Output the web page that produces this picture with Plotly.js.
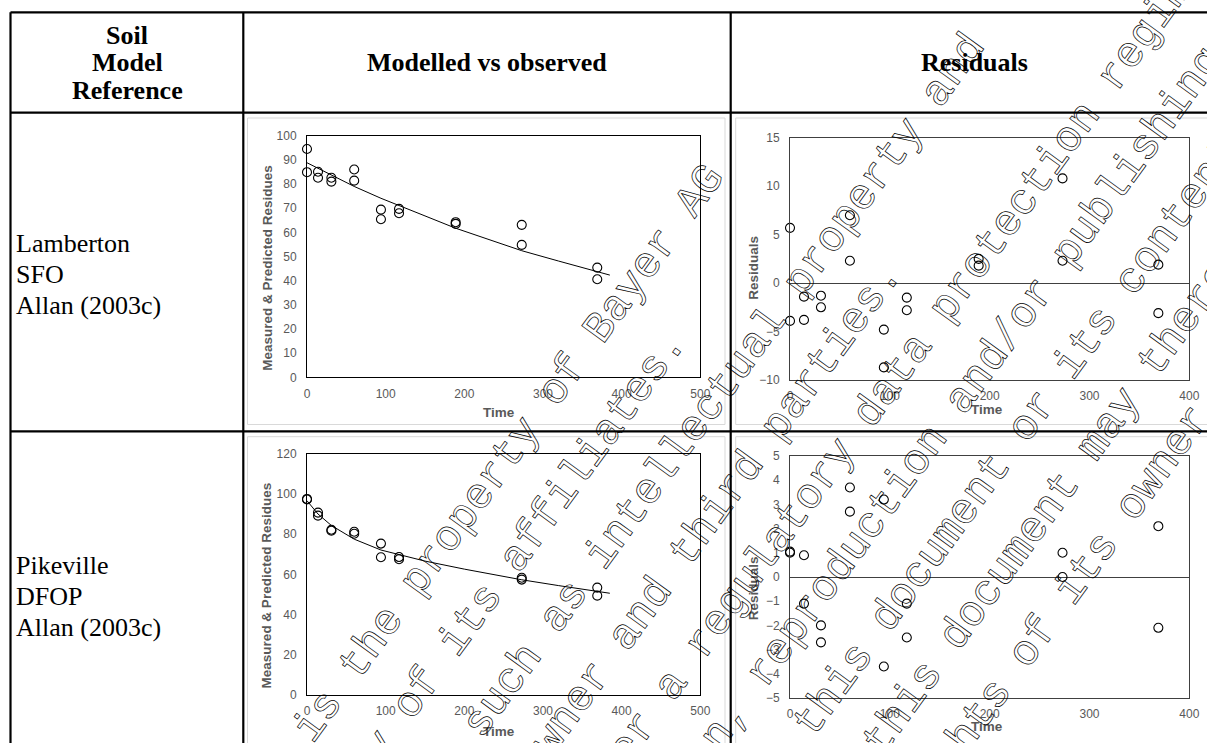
<!DOCTYPE html>
<html><head><meta charset="utf-8">
<script src="https://cdn.plot.ly/plotly-3.0.1.min.js"></script>
<style>html,body{margin:0;padding:0;background:#fff;overflow:hidden}#chart{width:1207px;height:743px}</style>
</head><body><div id="chart"></div>
<script>
// ---------- data ----------
// Lamberton (SFO)
const lamTime = [0,0,14,14,31,31,60,60,94,94,117,117,189,189,273,273,369,369];
const lamObs  = [94.5,84.9,85.1,82.6,82.6,81.0,86.0,81.4,69.4,65.4,69.7,67.9,64.2,63.5,63.1,54.8,45.4,40.6];
const lamFitTime = [0,14,31,60,94,117,150,189,230,273,320,369,385];
const lamFit     = [88.8,86.5,83.9,79.0,74.1,71.2,66.8,61.7,57.2,52.4,48.1,43.6,42.3];
const lamRes  = [5.7,-3.9,-1.4,-3.8,-1.3,-2.5,7.0,2.3,-4.8,-8.7,-1.5,-2.8,2.5,1.8,10.8,2.3,1.9,-3.1];
// Pikeville (DFOP)
const pikTime = [0,0,14,14,31,31,60,60,94,94,117,117,273,273,369,369];
const pikObs  = [97.5,97.2,90.7,89.2,82.2,81.7,81.2,80.2,75.3,68.5,68.6,67.5,58.3,57.4,53.4,49.4];
const pikFitTime = [0,14,31,60,94,117,150,200,250,273,320,369,385];
const pikFit     = [96.6,90.0,84.3,77.5,72.1,69.8,66.6,62.6,59.0,57.3,54.4,51.4,50.6];
const pikRes  = [1.05,1.0,0.9,-1.1,-2.0,-2.7,3.7,2.7,3.2,-3.7,-1.1,-2.5,1.0,0.0,2.1,-2.1];

// ---------- text ----------
const headerSoil = ["Soil","Model","Reference"];
const headerCols = ["Modelled vs observed","Residuals"];
const row1Text = ["Lamberton","SFO","Allan (2003c)"];
const row2Text = ["Pikeville","DFOP","Allan (2003c)"];
const yTitleFit = "Measured & Predicted Residues";
const yTitleRes = "Residuals";
const xTitle = "Time";
const watermark = [
  "This document is the property of Bayer AG",
  "and/or any of its affiliates.",
  "It may be subject to rights such as intellectual property and",
  "copy rights of the owner and third parties.",
  "Furthermore, this document may fall under a regulatory data protection regime.",
  "Consequently, any publication, distribution, reproduction and/or publishing and",
  "any commercial exploitation and use of this document or its contents",
  "without the permission of the owner of this document may therefore",
  "be prohibited and violate the rights of its owner."
];

// ---------- layout helpers ----------
const W = 1207, H = 743;
const X = p => p / W;
const Y = p => 1 - p / H;

const tickFont = {family:"Liberation Sans, Arial, sans-serif", size:12, color:"#595959"};
const titleFont = {family:"Liberation Sans, Arial, sans-serif", size:13.5, color:"#595959"};

function axis(extra){
  return Object.assign({
    showgrid:false, zeroline:false, showline:true, mirror:true,
    linecolor:"#000", linewidth:1, ticks:"outside", tickcolor:"rgba(0,0,0,0)",
    ticklen:7, tickfont:tickFont, automargin:false, fixedrange:true
  }, extra);
}

const mk = {symbol:"circle-open", size:9, color:"#000", line:{width:1.1}};
const traces = [
  {x:lamTime, y:lamObs, mode:"markers", marker:mk, xaxis:"x", yaxis:"y", cliponaxis:false},
  {x:lamFitTime, y:lamFit, mode:"lines", line:{color:"#000", width:1}, xaxis:"x", yaxis:"y", cliponaxis:false},
  {x:pikTime, y:pikObs, mode:"markers", marker:mk, xaxis:"x2", yaxis:"y2", cliponaxis:false},
  {x:pikFitTime, y:pikFit, mode:"lines", line:{color:"#000", width:1}, xaxis:"x2", yaxis:"y2", cliponaxis:false},
  {x:lamTime, y:lamRes, mode:"markers", marker:mk, xaxis:"x3", yaxis:"y3", cliponaxis:false},
  {x:pikTime, y:pikRes, mode:"markers", marker:mk, xaxis:"x4", yaxis:"y4", cliponaxis:false}
];

const resLine = "#404040";
const layout = {
  width:W, height:H, margin:{l:0,r:0,t:0,b:0},
  paper_bgcolor:"#fff", plot_bgcolor:"rgba(0,0,0,0)",
  showlegend:false, hovermode:false,
  xaxis: axis({domain:[X(307),X(700.3)], range:[0,500], dtick:100, tick0:0, anchor:"y", ticklen:5}),
  yaxis: axis({domain:[Y(377.3),Y(135.7)], range:[0,100], dtick:10, tick0:0, anchor:"x"}),
  xaxis2: axis({domain:[X(307),X(700.3)], range:[0,500], dtick:100, tick0:0, anchor:"y2", ticklen:5}),
  yaxis2: axis({domain:[Y(695),Y(453.7)], range:[0,120], dtick:20, tick0:0, anchor:"x2"}),
  xaxis3: axis({domain:[X(790),X(1189.3)], range:[0,400], dtick:100, tick0:0, anchor:"y3", ticklen:5, linecolor:resLine}),
  yaxis3: axis({domain:[Y(380),Y(137.7)], range:[-10,15], dtick:5, tick0:0, anchor:"x3", linecolor:resLine,
                zeroline:true, zerolinecolor:resLine, zerolinewidth:1}),
  xaxis4: axis({domain:[X(790),X(1189.3)], range:[0,400], dtick:100, tick0:0, anchor:"y4", ticklen:5, linecolor:resLine}),
  yaxis4: axis({domain:[Y(698),Y(456)], range:[-5,5], dtick:1, tick0:0, anchor:"x4", linecolor:resLine,
                zeroline:true, zerolinecolor:resLine, zerolinewidth:1}),
  shapes:[], annotations:[]
};

// chart-area frames (light grey)
const frame = (x0,y0,x1,y1)=>({type:"rect", xref:"paper", yref:"paper", x0:X(x0), x1:X(x1), y0:Y(y1), y1:Y(y0),
  line:{color:"#d9d9d9", width:1}, fillcolor:"rgba(0,0,0,0)"});
layout.shapes.push(frame(247.5,118,725,424.5), frame(247.5,436.7,725,770),
                   frame(735.7,118,1230,424.5), frame(735.7,436.7,1230,770));
// table grid
const tl = (x0,y0,x1,y1)=>({type:"line", xref:"paper", yref:"paper", x0:X(x0), x1:X(x1), y0:Y(y0), y1:Y(y1),
  line:{color:"#000", width:2.2}});
layout.shapes.push(tl(10.5,12.3,1230,12.3), tl(10.5,112.7,1230,112.7), tl(10.5,431.3,1230,431.3),
                   tl(10.5,12.3,10.5,770), tl(243.3,12.3,243.3,770), tl(730.7,12.3,730.7,770));

const ann = (text,x,y,font,extra)=>Object.assign({text, x:X(x), y:Y(y), xref:"paper", yref:"paper",
  showarrow:false, xanchor:"center", yanchor:"middle", font}, extra||{});
const serifB = {family:"Liberation Serif, Times New Roman, serif", size:26, color:"#000"};
const serif = {family:"Liberation Serif, Times New Roman, serif", size:26, color:"#000"};

headerSoil.forEach((t,i)=>layout.annotations.push(ann("<b>"+t+"</b>",127,35+27.5*i,serifB)));
layout.annotations.push(ann("<b>"+headerCols[0]+"</b>",487,62.5,serifB));
layout.annotations.push(ann("<b>"+headerCols[1]+"</b>",974,62.5,serifB));
row1Text.forEach((t,i)=>layout.annotations.push(ann(t,14,243+31*i,serif,{xanchor:"left"})));
row2Text.forEach((t,i)=>layout.annotations.push(ann(t,14,565+31*i,serif,{xanchor:"left"})));

// axis titles
layout.annotations.push(ann("<b>"+yTitleFit+"</b>",266.7,268,titleFont,{textangle:-90}));
layout.annotations.push(ann("<b>"+yTitleFit+"</b>",266.7,585.7,titleFont,{textangle:-90}));
layout.annotations.push(ann("<b>"+yTitleRes+"</b>",752.7,268,titleFont,{textangle:-90}));
layout.annotations.push(ann("<b>"+yTitleRes+"</b>",753.3,588,titleFont,{textangle:-90}));
layout.annotations.push(ann("<b>"+xTitle+"</b>",499,412,titleFont));
layout.annotations.push(ann("<b>"+xTitle+"</b>",499,731,titleFont));
layout.annotations.push(ann("<b>"+xTitle+"</b>",987,409,titleFont));
layout.annotations.push(ann("<b>"+xTitle+"</b>",987,726.7,titleFont));

// watermark: centred lines rotated 54 degrees
const wmStart = layout.annotations.length;
const ang = 54*Math.PI/180;
const nx = Math.sin(ang), ny = Math.cos(ang);     // normal (down-right)
const dx = Math.cos(ang), dy = -Math.sin(ang);    // along text (up-right)
const wmFirst = 679, wmStep = 66.9, wmAlong = -250;
watermark.forEach((t,k)=>{
  const o = wmFirst + wmStep*k;
  const cx = o*nx + wmAlong*dx, cy = o*ny + wmAlong*dy;
  layout.annotations.push(ann(t,cx,cy,{family:"Liberation Mono, Courier New, monospace", size:43.3, color:"rgb(1,1,1)"},{textangle:-54}));
});

Plotly.newPlot("chart", traces, layout, {staticPlot:true, displayModeBar:false}).then(()=>{
  document.querySelectorAll("g.annotation").forEach(g=>{
    const idx = +g.getAttribute("data-index");
    if (idx >= wmStart){
      g.querySelectorAll("text").forEach(el=>{
        el.style.fill = "none";
        el.style.stroke = "#000";
        el.style.strokeWidth = "0.7px";
      });
    }
  });
});
</script>
</body></html>
